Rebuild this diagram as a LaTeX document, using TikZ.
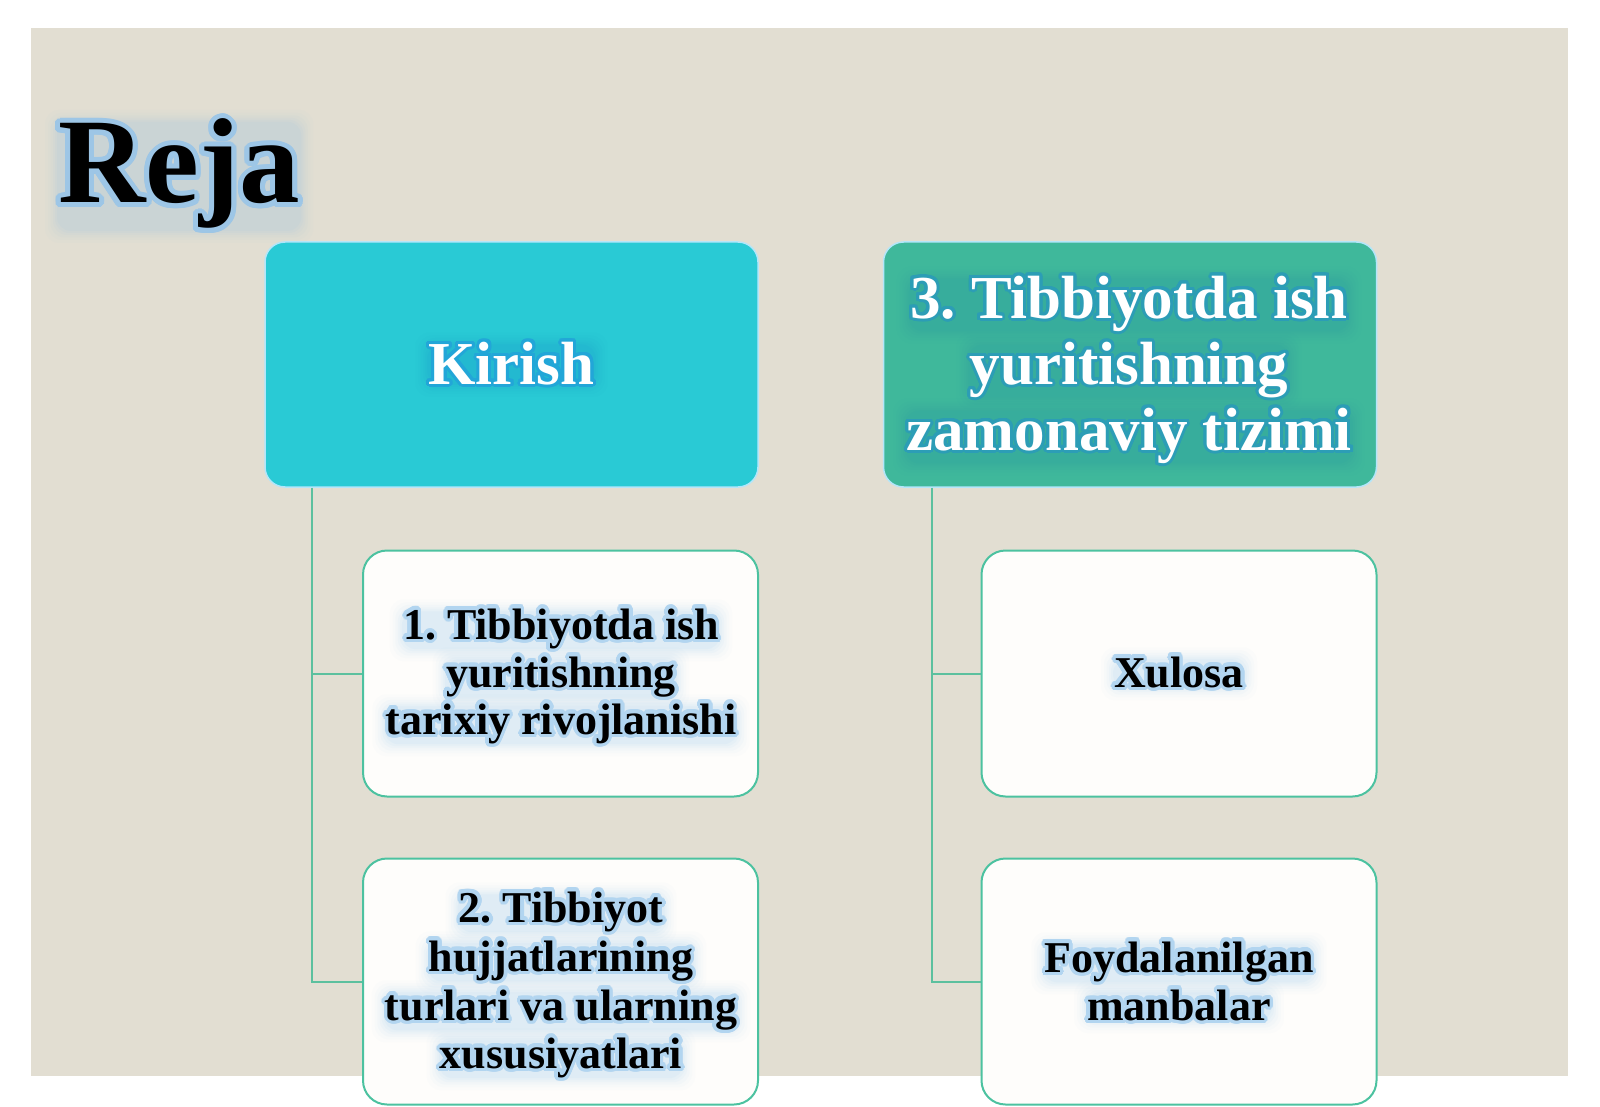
\documentclass[tikz,border=0pt]{standalone}
\usepackage{fontspec}
\setmainfont{Liberation Serif}
\usepackage{contour}
\contournumber{24}
\frenchspacing
\pgfdeclarelayer{fg}
\pgfsetlayers{main,fg}
\definecolor{beige}{HTML}{E2DED2}
\definecolor{kirishfill}{HTML}{29CAD5}
\definecolor{topfill}{HTML}{3FB89B}
\definecolor{childborder}{HTML}{4CC2A0}
\definecolor{childfill}{HTML}{FEFDFB}
\definecolor{connc}{HTML}{5CC09E}
\definecolor{titleglow}{HTML}{9DC6E6}
\definecolor{childglow}{HTML}{B2D5F0}
\definecolor{kirishglow}{HTML}{22A6D8}
\definecolor{topglow}{HTML}{2C9DB6}
\definecolor{titleband}{HTML}{8CC0E8}
\definecolor{childband}{HTML}{8EC2EC}
\definecolor{kirishband}{HTML}{1A92D0}
\definecolor{topband}{HTML}{2187B4}
% soft glow behind a text node: #1 node, #2 colour, #3 strength factor
\newcommand{\glowof}[3]{%
  \foreach \gs/\go in {13/0.04,10/0.055,7.5/0.07,5/0.085,3/0.10,1/0.12}{%
    \pgfmathsetmacro{\gop}{\go*#3}%
    \fill[#2, opacity=\gop, rounded corners=14pt] ([shift={(-\gs,\gs-4)}]#1.south west) rectangle ([shift={(\gs,-\gs+4)}]#1.north east);}}
\newcommand{\glowtext}[3]{\contourlength{#1}\contour{#2}{#3}}
\begin{document}
\begin{tikzpicture}[x=1pt,y=-1pt,
  topbox/.style={rounded corners=20pt, minimum width=493pt, minimum height=245pt, inner sep=0pt, draw=white!70!cyan, line width=1.5pt},
  childbox/.style={rounded corners=24pt, minimum width=395pt, minimum height=246pt, inner sep=0pt, draw=childborder, fill=childfill, line width=2pt},
  topline/.style={anchor=base, inner sep=0pt, text=white, font=\bfseries\fontsize{61}{66}\selectfont},
  childline/.style={anchor=base, inner sep=0pt, text=black, font=\bfseries\fontsize{44}{48}\selectfont},
  conn/.style={draw=connc, line width=2pt}]
\useasboundingbox (0,0) rectangle (1600,1107);
\fill[white] (0,0) rectangle (1600,1107);
\fill[beige] (31,28) rectangle (1568,1076);
% boxes
\node[topbox, fill=kirishfill] (kirish) at (511.5,364.5) {};
\node[topbox, fill=topfill] (zamon) at (1130,364.5) {};
\node[childbox] (b1) at (560.5,673.5) {};
\node[childbox] (b2) at (560.5,981.5) {};
\node[childbox] (b3) at (1179,673.5) {};
\node[childbox] (b4) at (1179,981.5) {};
% connectors
\coordinate (lroot) at ([xshift=48pt]kirish.south west);
\coordinate (rroot) at ([xshift=49pt]zamon.south west);
\draw[conn] (lroot) |- (b1.west);
\draw[conn] (lroot) |- (b2.west);
\draw[conn] (rroot) |- (b3.west);
\draw[conn] (rroot) |- (b4.west);
% texts
\begin{pgfonlayer}{fg}
\node[anchor=base west, inner sep=0pt, font=\bfseries\fontsize{121}{125}\selectfont] (title) at (58,203) {\glowtext{5pt}{titleglow}{Reja}};
\node[topline] (kirisht) at (511.5,384) {\glowtext{3pt}{kirishglow}{Kirish}};
\node[topline] (z1) at (1129,318) {\glowtext{3pt}{topglow}{3. Tibbiyotda ish}};
\node[topline] (z2) at (1129,384) {\glowtext{3pt}{topglow}{yuritishning}};
\node[topline] (z3) at (1129,450) {\glowtext{3pt}{topglow}{zamonaviy tizimi}};
\node[childline] (b1a) at (561,639) {\glowtext{3.5pt}{childglow}{1. Tibbiyotda ish}};
\node[childline] (b1b) at (561,687) {\glowtext{3.5pt}{childglow}{yuritishning}};
\node[childline] (b1c) at (561,734) {\glowtext{3.5pt}{childglow}{tarixiy rivojlanishi}};
\node[childline] (b2a) at (561,922) {\glowtext{3.5pt}{childglow}{2. Tibbiyot}};
\node[childline] (b2b) at (561,971) {\glowtext{3.5pt}{childglow}{hujjatlarining}};
\node[childline] (b2c) at (561,1020) {\glowtext{3.5pt}{childglow}{turlari va ularning}};
\node[childline] (b2d) at (561,1068) {\glowtext{3.5pt}{childglow}{xususiyatlari}};
\node[childline] (b3a) at (1179,687) {\glowtext{3.5pt}{childglow}{Xulosa}};
\node[childline] (b4a) at (1179,972) {\glowtext{3.5pt}{childglow}{Foydalanilgan}};
\node[childline] (b4b) at (1179,1020) {\glowtext{3.5pt}{childglow}{manbalar}};
\end{pgfonlayer}
% soft glows (main layer, above boxes, below texts)
\glowof{title}{titleband}{0.6}
\glowof{kirisht}{kirishband}{0.6}
\glowof{z1}{topband}{0.4}\glowof{z2}{topband}{0.4}\glowof{z3}{topband}{0.4}
\glowof{b1a}{childband}{0.6}\glowof{b1b}{childband}{0.6}\glowof{b1c}{childband}{0.6}
\glowof{b2a}{childband}{0.6}\glowof{b2b}{childband}{0.6}\glowof{b2c}{childband}{0.6}\glowof{b2d}{childband}{0.6}
\glowof{b3a}{childband}{0.6}
\glowof{b4a}{childband}{0.6}\glowof{b4b}{childband}{0.6}
\end{tikzpicture}
\end{document}
